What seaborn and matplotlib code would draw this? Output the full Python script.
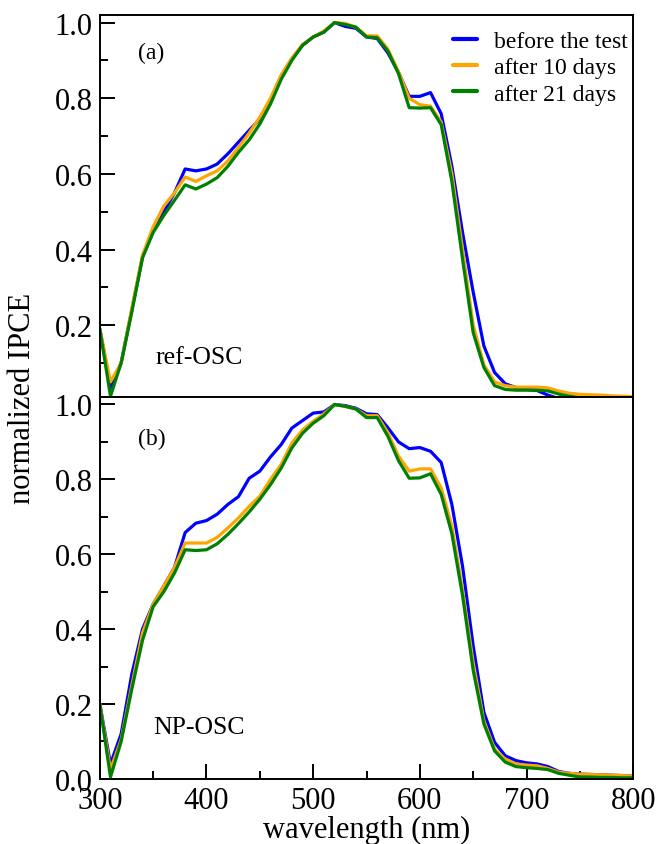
import numpy as np
import pandas as pd
import matplotlib
matplotlib.use("Agg")
import matplotlib.pyplot as plt
from matplotlib.ticker import MultipleLocator
import seaborn as sns

# wavelength grid (nm)
wavelength = list(range(300, 810, 10))

# panel (a): ref-OSC
ref_before = [0.19, 0.035, 0.10, 0.24, 0.38, 0.45, 0.50, 0.55, 0.613, 0.608,
              0.613, 0.626, 0.653, 0.684, 0.715, 0.745, 0.795, 0.858, 0.904, 0.94,
              0.962, 0.975, 1.0, 0.99, 0.985, 0.962, 0.958, 0.92, 0.868, 0.805,
              0.805, 0.815, 0.759, 0.62, 0.445, 0.287, 0.145, 0.075, 0.045, 0.035,
              0.03, 0.027, 0.015, 0.006, 0.004, 0.003, 0.002, 0.002, 0.001, 0.001, 0.001]
ref_10d = [0.19, 0.05, 0.10, 0.245, 0.385, 0.46, 0.515, 0.55, 0.592, 0.58,
           0.595, 0.608, 0.634, 0.67, 0.708, 0.75, 0.80, 0.862, 0.906, 0.942,
           0.962, 0.978, 1.0, 0.998, 0.988, 0.965, 0.965, 0.93, 0.87, 0.80,
           0.783, 0.779, 0.737, 0.60, 0.40, 0.20, 0.095, 0.05, 0.04, 0.036,
           0.036, 0.036, 0.034, 0.026, 0.02, 0.017, 0.016, 0.015, 0.013, 0.012, 0.011]
ref_21d = [0.19, 0.012, 0.10, 0.235, 0.378, 0.445, 0.49, 0.53, 0.571, 0.56,
           0.573, 0.59, 0.62, 0.657, 0.69, 0.732, 0.785, 0.85, 0.90, 0.94,
           0.962, 0.975, 1.0, 0.995, 0.988, 0.962, 0.96, 0.925, 0.865, 0.775,
           0.774, 0.775, 0.73, 0.58, 0.375, 0.18, 0.088, 0.04, 0.03, 0.028,
           0.028, 0.028, 0.026, 0.018, 0.012, 0.008, 0.005, 0.004, 0.003, 0.003, 0.003]

# panel (b): NP-OSC
np_before = [0.20, 0.04, 0.12, 0.28, 0.40, 0.467, 0.515, 0.565, 0.658, 0.683,
             0.69, 0.707, 0.733, 0.754, 0.803, 0.822, 0.86, 0.893, 0.937, 0.957,
             0.977, 0.98, 1.0, 0.997, 0.99, 0.975, 0.973, 0.938, 0.90, 0.882,
             0.885, 0.875, 0.845, 0.733, 0.568, 0.355, 0.178, 0.098, 0.062, 0.049,
             0.043, 0.04, 0.033, 0.02, 0.015, 0.013, 0.012, 0.011, 0.01, 0.009, 0.008]
np_10d = [0.20, 0.025, 0.105, 0.25, 0.39, 0.467, 0.515, 0.565, 0.63, 0.63,
          0.63, 0.645, 0.67, 0.697, 0.728, 0.755, 0.80, 0.84, 0.897, 0.932,
          0.955, 0.975, 1.0, 0.995, 0.988, 0.97, 0.97, 0.925, 0.862, 0.822,
          0.828, 0.828, 0.777, 0.675, 0.505, 0.31, 0.155, 0.08, 0.053, 0.04,
          0.037, 0.035, 0.028, 0.018, 0.015, 0.013, 0.012, 0.011, 0.01, 0.009, 0.008]
np_21d = [0.20, 0.005, 0.10, 0.24, 0.37, 0.46, 0.50, 0.55, 0.612, 0.61,
          0.612, 0.628, 0.653, 0.682, 0.713, 0.747, 0.786, 0.83, 0.884, 0.923,
          0.95, 0.97, 1.0, 0.995, 0.988, 0.965, 0.965, 0.915, 0.85, 0.803,
          0.804, 0.815, 0.76, 0.655, 0.49, 0.29, 0.147, 0.075, 0.045, 0.033,
          0.03, 0.028, 0.025, 0.015, 0.01, 0.005, 0.005, 0.004, 0.004, 0.003, 0.003]

conditions = ["before the test", "after 10 days", "after 21 days"]
colors = ["#0000ff", "#ffa500", "#008000"]


def to_frame(series):
    rows = []
    for cond, vals in zip(conditions, series):
        for w, v in zip(wavelength, vals):
            rows.append({"wavelength": w, "ipce": v, "condition": cond})
    return pd.DataFrame(rows)


df_a = to_frame([ref_before, ref_10d, ref_21d])
df_b = to_frame([np_before, np_10d, np_21d])

sns.set_style("ticks")
plt.rcParams["font.family"] = ["Liberation Serif", "DejaVu Serif"]
plt.rcParams["axes.linewidth"] = 1.4
for key in ("text.color", "axes.labelcolor", "xtick.color", "ytick.color",
            "axes.edgecolor"):
    plt.rcParams[key] = "black"

fig, (ax1, ax2) = plt.subplots(2, 1, figsize=(6.61, 8.45), dpi=100, sharex=True)
fig.subplots_adjust(left=0.151, right=0.958, top=0.981, bottom=0.077, hspace=0)

palette = dict(zip(conditions, colors))
sns.lineplot(data=df_a, x="wavelength", y="ipce", hue="condition", palette=palette,
             linewidth=2.3, ax=ax1)
sns.lineplot(data=df_b, x="wavelength", y="ipce", hue="condition", palette=palette,
             linewidth=2.3, ax=ax2, legend=False)

for ax in (ax1, ax2):
    ax.set_xlim(300, 800)
    ax.xaxis.set_major_locator(MultipleLocator(100))
    ax.xaxis.set_minor_locator(MultipleLocator(50))
    ax.yaxis.set_major_locator(MultipleLocator(0.2))
    ax.yaxis.set_minor_locator(MultipleLocator(0.1))
    ax.tick_params(which="both", direction="in", width=1.4, labelsize=22,
                   top=False, right=False, colors="black")
    ax.tick_params(which="major", length=11, pad=5)
    ax.tick_params(which="minor", length=6)
    ax.set_ylabel("")
    for s in ax.spines.values():
        s.set_visible(True)
        s.set_color("black")

ax1.set_ylim(0.01, 1.02)
ax2.set_ylim(0.0, 1.02)
ax1.tick_params(which="both", bottom=False, labelbottom=False)
ax1.set_xlabel("")
ax2.set_xlabel("wavelength (nm)", fontsize=22, labelpad=0, color="black")
ax1.yaxis.set_major_formatter(plt.FuncFormatter(lambda v, p: f"{v:.1f}"))
ax2.yaxis.set_major_formatter(plt.FuncFormatter(lambda v, p: f"{v:.1f}"))

fig.text(0.034, 0.529, "normalized IPCE", rotation=90, fontsize=22,
         ha="center", va="center", color="black")

ax1.text(0.096, 0.902, "(a)", transform=ax1.transAxes, fontsize=17,
         ha="center", va="center")
ax1.text(0.186, 0.105, "ref-OSC", transform=ax1.transAxes, fontsize=18.5,
         ha="center", va="center")
ax2.text(0.098, 0.891, "(b)", transform=ax2.transAxes, fontsize=17,
         ha="center", va="center")
ax2.text(0.186, 0.136, "NP-OSC", transform=ax2.transAxes, fontsize=18.5,
         ha="center", va="center")

leg = ax1.legend(loc="upper right", bbox_to_anchor=(0.989, 0.959), frameon=False,
                 fontsize=17, handlelength=1.0, handletextpad=0.7,
                 labelspacing=0.2, borderpad=0, borderaxespad=0)
for line in leg.get_lines():
    line.set_linewidth(3)

fig.savefig("out.png", dpi=100)
